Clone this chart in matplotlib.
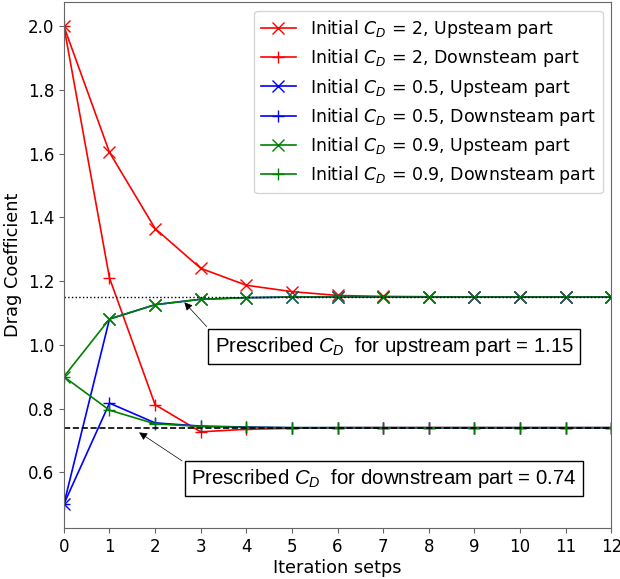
import numpy as np
import matplotlib
matplotlib.use('Agg')
import matplotlib.pyplot as plt

iters = np.arange(0, 13)

# Initial C_D = 2
red_up = [2.0, 1.604, 1.365, 1.240, 1.187, 1.167, 1.155, 1.152, 1.151, 1.15, 1.15, 1.15, 1.15]
red_down = [2.0, 1.21, 0.812, 0.727, 0.735, 0.738, 0.74, 0.74, 0.74, 0.74, 0.74, 0.74, 0.74]
# Initial C_D = 0.5
blue_up = [0.5, 1.081, 1.126, 1.143, 1.148, 1.15, 1.15, 1.15, 1.15, 1.15, 1.15, 1.15, 1.15]
blue_down = [0.5, 0.817, 0.755, 0.745, 0.742, 0.74, 0.74, 0.74, 0.74, 0.74, 0.74, 0.74, 0.74]
# Initial C_D = 0.9
green_up = [0.9, 1.081, 1.126, 1.143, 1.148, 1.15, 1.15, 1.15, 1.15, 1.15, 1.15, 1.15, 1.15]
green_down = [0.9, 0.795, 0.752, 0.744, 0.741, 0.74, 0.74, 0.74, 0.74, 0.74, 0.74, 0.74, 0.74]

cd_up = 1.15
cd_down = 0.74

plt.rcParams['font.size'] = 12
plt.rcParams['mathtext.fontset'] = 'custom'
plt.rcParams['mathtext.rm'] = 'Liberation Sans'
plt.rcParams['mathtext.it'] = 'Liberation Sans:italic'

fig, ax = plt.subplots(figsize=(6.2, 5.79), dpi=100)
fig.subplots_adjust(left=0.103, right=0.986, top=0.996, bottom=0.088)

ax.plot(iters, red_up, 'r-x', ms=8, lw=1.2, label='Initial $C_D$ = 2, Upsteam part')
ax.plot(iters, red_down, 'r-+', ms=8, lw=1.2, label='Initial $C_D$ = 2, Downsteam part')
ax.plot(iters, blue_up, 'b-x', ms=8, lw=1.2, label='Initial $C_D$ = 0.5, Upsteam part')
ax.plot(iters, blue_down, 'b-+', ms=8, lw=1.2, label='Initial $C_D$ = 0.5, Downsteam part')
ax.plot(iters, green_up, 'g-x', ms=8, lw=1.2, label='Initial $C_D$ = 0.9, Upsteam part')
ax.plot(iters, green_down, 'g-+', ms=8, lw=1.2, label='Initial $C_D$ = 0.9, Downsteam part')

ax.axhline(cd_up, color='k', ls=':', lw=1)
ax.axhline(cd_down, color='k', ls='--', lw=1.2)

box = dict(boxstyle='square,pad=0.3', fc='white', ec='black')
arr = dict(arrowstyle='-|>', color='k', lw=0.5, mutation_scale=12, relpos=(0, 1))
ax.annotate('Prescribed $C_D$  for upstream part = 1.15', xy=(2.6, 1.14), xytext=(7.24, 0.994),
            ha='center', va='center', fontfamily='Liberation Sans', fontsize=14.7,
            bbox=box, arrowprops=arr)
ax.annotate('Prescribed $C_D$  for downstream part = 0.74', xy=(1.6, 0.73), xytext=(7.01, 0.581),
            ha='center', va='center', fontfamily='Liberation Sans', fontsize=14.7,
            bbox=box, arrowprops=arr)

ax.set_xlim(0, 12)
ax.set_xticks(iters)
ax.set_yticks(np.arange(0.6, 2.01, 0.2))
ax.set_xlabel('Iteration setps', fontsize=12.8, labelpad=2)
ax.set_ylabel('Drag Coefficient', fontsize=12.8)
for s in ax.spines.values():
    s.set_color('#666666')
ax.tick_params(color='#666666')
leg = ax.legend(loc='upper right', fontsize=12.5, labelspacing=0.42)
for t in leg.get_texts():
    t.set_math_fontfamily('dejavusans')

fig.savefig('out.png')
